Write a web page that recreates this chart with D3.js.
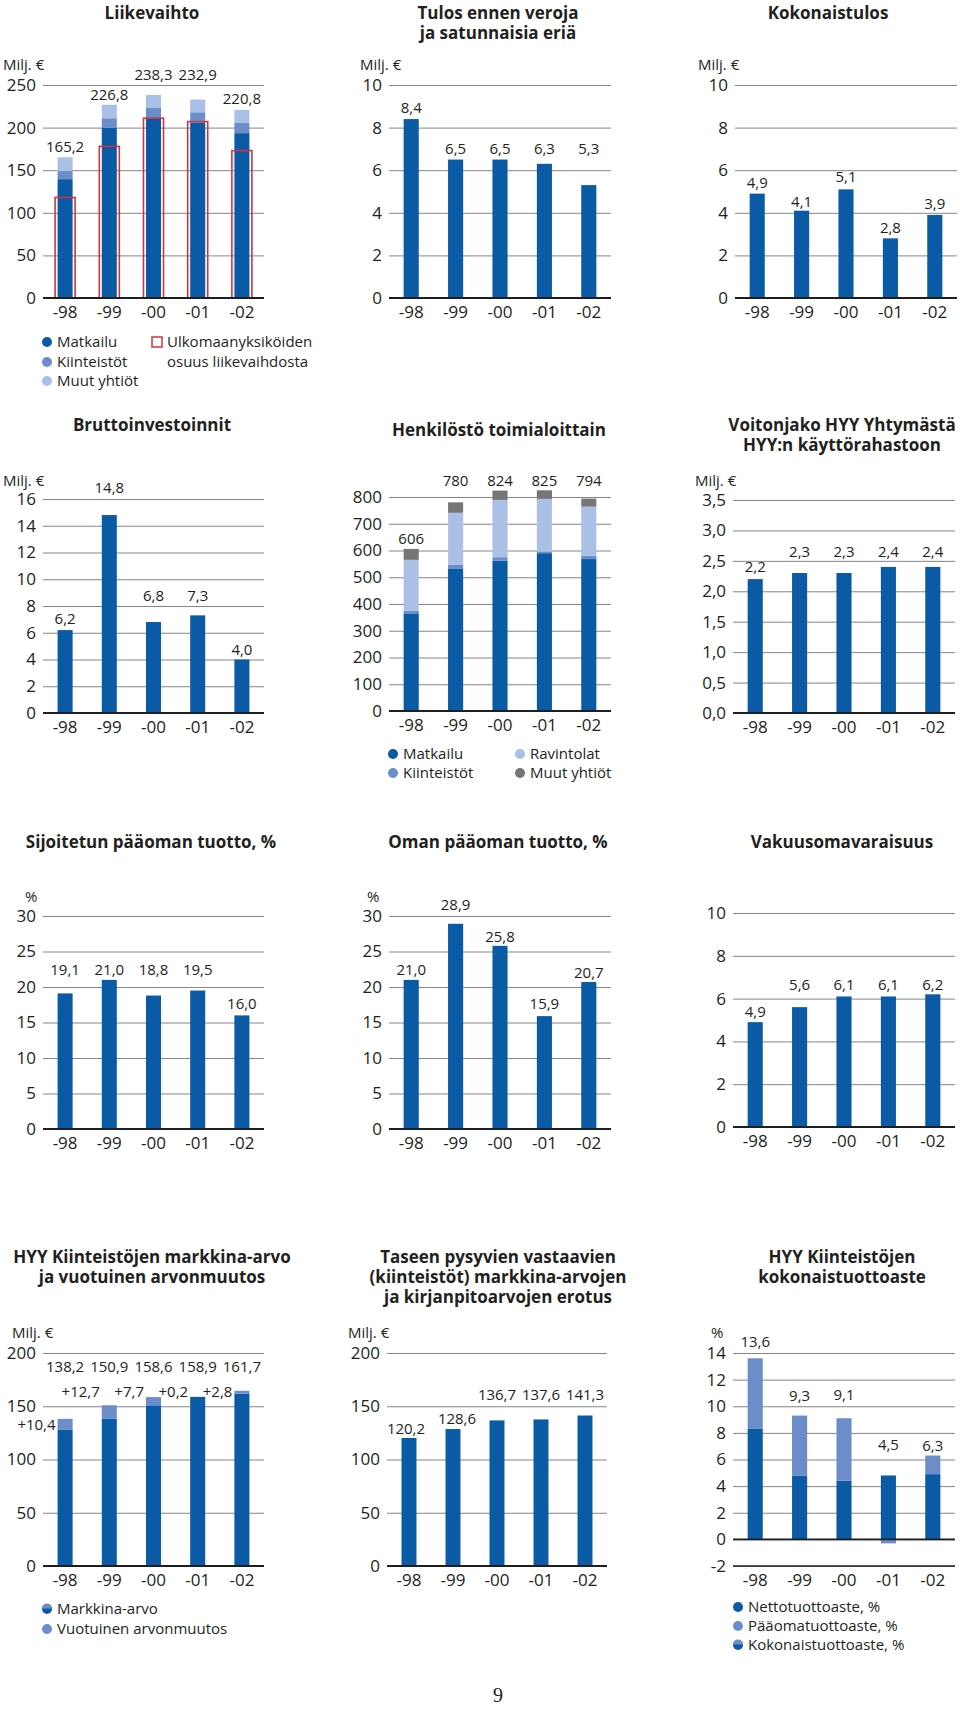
<!DOCTYPE html>
<html><head><meta charset="utf-8">
<script src="https://cdn.jsdelivr.net/npm/d3@7"></script>
<style>
body{margin:0;background:#fff;}
svg text{font-family:"Open Sans",sans-serif;}
</style></head><body>
<svg id="c" width="960" height="1709"></svg>
<script>
// ---------- DATA ----------
const years = ["-98", "-99", "-00", "-01", "-02"];

const lvMatkailu    = [139.5, 200.0, 211.0, 206.0, 193.5];
const lvKiinteistot = [9.5, 11.0, 12.0, 12.0, 12.5];
const lvMuut        = [16.2, 15.8, 15.3, 14.9, 14.8];
const lvTotal       = [165.2, 226.8, 238.3, 232.9, 220.8];
const lvUlkomaa     = [118, 178, 211, 207, 173];
const lvTicks       = [0, 50, 100, 150, 200, 250];

const tulos         = [8.4, 6.5, 6.5, 6.3, 5.3];
const tulosTicks    = [0, 2, 4, 6, 8, 10];

const kokonaistulos = [4.9, 4.1, 5.1, 2.8, 3.9];
const kokTicks      = [0, 2, 4, 6, 8, 10];

const brutto        = [6.2, 14.8, 6.8, 7.3, 4.0];
const bruttoTicks   = [0, 2, 4, 6, 8, 10, 12, 14, 16];

const hMatkailu     = [365, 533, 562, 590, 568];
const hKiinteistot  = [10, 13, 13, 6, 12];
const hRavintolat   = [190, 195, 214, 197, 184];
const hMuut         = [41, 39, 35, 32, 30];
const hTotal        = [606, 780, 824, 825, 794];
const hTicks        = [0, 100, 200, 300, 400, 500, 600, 700, 800];

const voitonjako    = [2.2, 2.3, 2.3, 2.4, 2.4];
const vTicks        = [0, 0.5, 1.0, 1.5, 2.0, 2.5, 3.0, 3.5];

const sijoitetun    = [19.1, 21.0, 18.8, 19.5, 16.0];
const oman          = [21.0, 28.9, 25.8, 15.9, 20.7];
const pctTicks      = [0, 5, 10, 15, 20, 25, 30];

const vakuus        = [4.9, 5.6, 6.1, 6.1, 6.2];
const vakTicks      = [0, 2, 4, 6, 8, 10];

const markkinaArvo  = [127.8, 138.2, 150.9, 158.7, 161.7];
const arvonmuutos   = [10.4, 12.7, 7.7, 0.2, 2.8];
const markkinaTotal = [138.2, 150.9, 158.6, 158.9, 161.7];
const maTicks       = [0, 50, 100, 150, 200];

const taseen        = [120.2, 128.6, 136.7, 137.6, 141.3];
const taseTicks     = [0, 50, 100, 150, 200];

const nettotuotto   = [8.3, 4.8, 4.4, 4.8, 4.9];
const paaomatuotto  = [5.3, 4.5, 4.7, -0.3, 1.4];
const kokonaistuotto= [13.6, 9.3, 9.1, 4.5, 6.3];
const ktTicks       = [-2, 0, 2, 4, 6, 8, 10, 12, 14];

// ---------- STYLE ----------
const C = {dark:"#0a5aa6", mid:"#6b8ecb", light:"#aac0e6", gray:"#767676", red:"#d0343c"};
const ink = "#231f20";
const fmtC = d => d.toFixed(1).replace(".", ",");
const fmtI = d => String(d);
const svg = d3.select("#c");

const panels = [
 {x0:43, w:221, top:85, bot:298, ticks:lvTicks, title:["Liikevaihto"], tx:152, ty:19,
  unit:"Milj. €", ux:3, uy:70,
  stack:[{v:lvMatkailu,c:C.dark},{v:lvKiinteistot,c:C.mid},{v:lvMuut,c:C.light}],
  outline:{v:lvUlkomaa,c:C.red},
  labels:{v:lvTotal, off:[10,10,20,25,11], f:fmtC},
  legend:[{t:"circle",c:C.dark,x:47,y:342,s:"Matkailu"},{t:"circle",c:C.mid,x:47,y:362,s:"Kiinteistöt"},
          {t:"circle",c:C.light,x:47,y:381,s:"Muut yhtiöt"},{t:"square",c:C.red,x:157,y:342,s:"Ulkomaanyksiköiden"},
          {t:"none",x:157,y:362,s:"osuus liikevaihdosta"}]},
 {x0:389, w:222, top:85, bot:298, ticks:tulosTicks, title:["Tulos ennen veroja","ja satunnaisia eriä"], tx:498, ty:19,
  unit:"Milj. €", ux:360, uy:70, stack:[{v:tulos,c:C.dark}],
  labels:{v:tulos, off:[11,10.5,10.5,15,36], f:fmtC}},
 {x0:735, w:222, top:85, bot:298, ticks:kokTicks, title:["Kokonaistulos"], tx:828, ty:19,
  unit:"Milj. €", ux:698, uy:70, stack:[{v:kokonaistulos,c:C.dark}],
  labels:{v:kokonaistulos, off:[11,9,12,10,11], f:fmtC}},

 {x0:43, w:221, top:499, bot:713, ticks:bruttoTicks, title:["Bruttoinvestoinnit"], tx:152, ty:431,
  unit:"Milj. €", ux:3, uy:486, stack:[{v:brutto,c:C.dark}],
  labels:{v:brutto, off:[11,27,26,19,10], f:fmtC}},
 {x0:389, w:222, top:497, bot:711, ticks:hTicks, title:["Henkilöstö toimialoittain"], tx:499, ty:436,
  stack:[{v:hMatkailu,c:C.dark},{v:hKiinteistot,c:C.mid},{v:hRavintolat,c:C.light},{v:hMuut,c:C.gray}],
  labels:{v:hTotal, off:[10,21,10,9,18], f:fmtI},
  legend:[{t:"circle",c:C.dark,x:393,y:754,s:"Matkailu"},{t:"circle",c:C.mid,x:393,y:773,s:"Kiinteistöt"},
          {t:"circle",c:C.light,x:520,y:754,s:"Ravintolat"},{t:"circle",c:C.gray,x:520,y:773,s:"Muut yhtiöt"}]},
 {x0:733, w:222, top:500, bot:713, ticks:vTicks, tf:fmtC, title:["Voitonjako HYY Yhtymästä","HYY:n käyttörahastoon"], tx:842, ty:431,
  unit:"Milj. €", ux:695, uy:486, stack:[{v:voitonjako,c:C.dark}],
  labels:{v:voitonjako, off:[12,21,21,15,15], f:fmtC}},

 {x0:43, w:221, top:916, bot:1129, ticks:pctTicks, title:["Sijoitetun pääoman tuotto, %"], tx:151, ty:848,
  unit:"%", ux:25, uy:902, stack:[{v:sijoitetun,c:C.dark}],
  labels:{v:sijoitetun, off:[23,10,25.5,20.5,11], f:fmtC}},
 {x0:389, w:222, top:916, bot:1129, ticks:pctTicks, title:["Oman pääoman tuotto, %"], tx:498, ty:848,
  unit:"%", ux:367, uy:902, stack:[{v:oman,c:C.dark}],
  labels:{v:oman, off:[10,19,9,12,9], f:fmtC}},
 {x0:733, w:222, top:913, bot:1127, ticks:vakTicks, title:["Vakuusomavaraisuus"], tx:842, ty:848,
  stack:[{v:vakuus,c:C.dark}],
  labels:{v:vakuus, off:[10,22,11.5,11.5,9], f:fmtC}},

 {x0:43, w:221, top:1353, bot:1566, ticks:maTicks, title:["HYY Kiinteistöjen markkina-arvo","ja vuotuinen arvonmuutos"], tx:152, ty:1263,
  unit:"Milj. €", ux:12, uy:1338,
  stack:[{v:markkinaArvo,c:C.dark},{v:arvonmuutos,c:C.mid}],
  labels:{v:markkinaTotal, off:[52,38,30,30,27], f:fmtC},
  change:{v:arvonmuutos, base:markkinaArvo, off:[-6,13,5,5,-1]},
  legend:[{t:"half",c:C.dark,c2:C.mid,x:47,y:1609,s:"Markkina-arvo"},{t:"circle",c:C.mid,x:47,y:1629,s:"Vuotuinen arvonmuutos"}]},
 {x0:387, w:220, top:1353, bot:1566, ticks:taseTicks, title:["Taseen pysyvien vastaavien","(kiinteistöt) markkina-arvojen","ja kirjanpitoarvojen erotus"], tx:498, ty:1263,
  unit:"Milj. €", ux:348, uy:1338, stack:[{v:taseen,c:C.dark}],
  labels:{v:taseen, off:[9,10,25,24.5,20.5], dx:[-3,4,0,0,0], f:fmtC}},
 {x0:733, w:222, top:1353, bot:1566, ticks:ktTicks, title:["HYY Kiinteistöjen","kokonaistuottoaste"], tx:842, ty:1263,
  unit:"%", ux:711, uy:1338,
  stack:[{v:nettotuotto,c:C.dark},{v:paaomatuotto,c:C.mid}],
  labels:{v:kokonaistuotto, off:[16,20,23,34,10], f:fmtC},
  legend:[{t:"circle",c:C.dark,x:738,y:1607,s:"Nettotuottoaste, %"},{t:"circle",c:C.mid,x:738,y:1626,s:"Pääomatuottoaste, %"},
          {t:"half",c:C.dark,c2:C.mid,x:738,y:1645,s:"Kokonaistuottoaste, %"}]}
];

function drawPanel(p) {
  const g = svg.append("g");
  const y = d3.scaleLinear().domain(d3.extent(p.ticks)).range([p.bot, p.top]);
  const x = d3.scaleBand().domain(years).range([p.x0, p.x0 + p.w]).paddingInner(0.66).paddingOuter(0.33);

  // grid + y tick labels
  const ya = g.append("g").attr("transform", `translate(${p.x0},0)`)
    .call(d3.axisLeft(y).tickValues(p.ticks).tickSize(-p.w).tickPadding(7).tickFormat(p.tf || fmtI));
  ya.attr("font-family", null).attr("font-size", null);
  ya.select(".domain").remove();
  ya.selectAll(".tick line").attr("stroke", "#858585").attr("stroke-width", 1);
  ya.selectAll(".tick text").attr("font-size", 17).attr("fill", ink);

  // stacked bars
  const keys = p.stack.map((s, k) => "s" + k);
  const rows = years.map((yr, i) => { const o = {year: yr}; p.stack.forEach((s, k) => o["s" + k] = s.v[i]); return o; });
  const st = d3.stack().keys(keys).offset(d3.stackOffsetDiverging)(rows);
  st.forEach((layer, k) => {
    g.append("g").selectAll("rect").data(layer).join("rect")
      .attr("x", d => x(d.data.year)).attr("width", x.bandwidth())
      .attr("y", d => y(Math.max(d[0], d[1])))
      .attr("height", d => Math.abs(y(d[0]) - y(d[1])))
      .attr("fill", p.stack[k].c);
  });

  // outline (ulkomaanyksiköt)
  if (p.outline) {
    g.append("g").selectAll("rect").data(p.outline.v).join("rect")
      .attr("x", (d, i) => x(years[i]) - 2.5).attr("width", x.bandwidth() + 5)
      .attr("y", d => y(d)).attr("height", d => y(0) - y(d))
      .attr("fill", "none").attr("stroke", p.outline.c).attr("stroke-width", 1.6);
  }

  // base line
  g.append("line").attr("x1", p.x0).attr("x2", p.x0 + p.w).attr("y1", y(0)).attr("y2", y(0))
    .attr("stroke", "#1e1e1e").attr("stroke-width", 1.8);
  if (y(0) !== p.bot) {
    g.append("line").attr("x1", p.x0).attr("x2", p.x0 + p.w).attr("y1", p.bot).attr("y2", p.bot)
      .attr("stroke", "#1e1e1e").attr("stroke-width", 1.6);
  }

  // x labels
  const xa = g.append("g").attr("transform", `translate(0,${p.bot})`)
    .call(d3.axisBottom(x).tickSize(0).tickPadding(8));
  xa.attr("font-family", null).attr("font-size", null);
  xa.select(".domain").remove();
  xa.selectAll(".tick text").attr("font-size", 17).attr("fill", ink);

  // value labels
  const L = p.labels;
  g.append("g").selectAll("text").data(L.v).join("text")
    .attr("x", (d, i) => x(years[i]) + x.bandwidth() / 2 + (L.dx ? L.dx[i] : 0))
    .attr("y", (d, i) => y(d) - L.off[i] + 5)
    .attr("text-anchor", "middle").attr("font-size", 15).attr("fill", ink)
    .text(d => L.f(d));

  // change labels
  if (p.change) {
    const Ch = p.change;
    g.append("g").selectAll("text").data(Ch.v).join("text")
      .attr("x", (d, i) => x(years[i]) - 2)
      .attr("y", (d, i) => y(Ch.base[i] + d) - Ch.off[i] + 5)
      .attr("text-anchor", "end").attr("font-size", 15).attr("fill", ink)
      .text(d => "+" + fmtC(d));
  }

  // title
  const lh = p.lh || 20;
  const t = g.append("text").attr("text-anchor", "middle").attr("font-size", 17)
    .attr("font-weight", 700).attr("fill", ink);
  p.title.forEach((s, i) => t.append("tspan").attr("x", p.tx).attr("y", p.ty + i * lh).text(s));

  // unit
  if (p.unit) g.append("text").attr("x", p.ux).attr("y", p.uy).attr("font-size", 15).attr("fill", ink).text(p.unit);

  // legend
  if (p.legend) {
    p.legend.forEach(l => {
      if (l.t === "circle") g.append("circle").attr("cx", l.x).attr("cy", l.y).attr("r", 5).attr("fill", l.c);
      if (l.t === "square") g.append("rect").attr("x", l.x - 5).attr("y", l.y - 5).attr("width", 10).attr("height", 10)
        .attr("fill", "#fff").attr("stroke", l.c).attr("stroke-width", 1.5);
      if (l.t === "half") {
        g.append("circle").attr("cx", l.x).attr("cy", l.y).attr("r", 5).attr("fill", l.c);
        g.append("path").attr("d", d3.arc()({innerRadius:0, outerRadius:5, startAngle:-Math.PI/2, endAngle:Math.PI/2}))
          .attr("transform", `translate(${l.x},${l.y - 0.5})`).attr("fill", l.c2);
      }
      g.append("text").attr("x", l.x + 10).attr("y", l.y + 5).attr("font-size", 15).attr("fill", ink).text(l.s);
    });
  }
}

panels.forEach(drawPanel);

// page number
svg.append("text").attr("x", 498).attr("y", 1702).attr("text-anchor", "middle")
  .attr("font-size", 20).style("font-family", "'Liberation Serif', serif").attr("fill", ink).text("9");
</script>
</body></html>
